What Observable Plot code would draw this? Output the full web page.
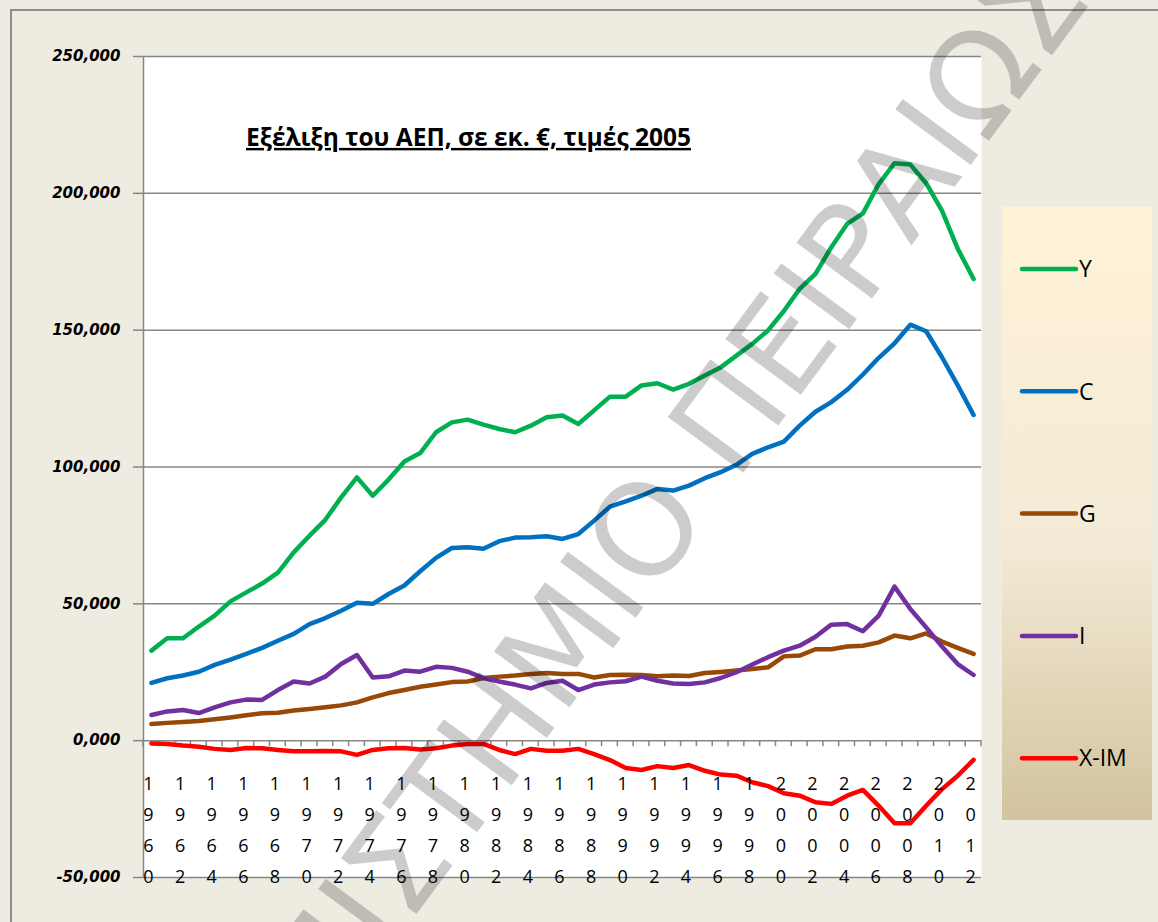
<!DOCTYPE html>
<html><head><meta charset="utf-8">
<script src="https://cdn.jsdelivr.net/npm/d3@7"></script>
<script src="https://cdn.jsdelivr.net/npm/@observablehq/plot@0.6"></script>
<style>
html,body{margin:0;padding:0;background:#EEECE1;overflow:hidden;}
#chart svg{display:block;}
</style>
</head><body><div id="chart"></div>
<script>
const years = [1960,1961,1962,1963,1964,1965,1966,1967,1968,1969,
  1970,1971,1972,1973,1974,1975,1976,1977,1978,1979,
  1980,1981,1982,1983,1984,1985,1986,1987,1988,1989,
  1990,1991,1992,1993,1994,1995,1996,1997,1998,1999,
  2000,2001,2002,2003,2004,2005,2006,2007,2008,2009,
  2010,2011,2012];

const seriesNames = ["Y","C","G","I","X-IM"];
const seriesColors = ["#00B050","#0070C0","#984807","#7030A0","#FF0000"];

const Y = [32.9,37.4,37.4,41.7,45.7,50.9,54.2,57.4,61.4,68.8,
  74.9,80.7,88.9,96.2,89.5,95.4,102.0,105.1,112.7,116.3,
  117.3,115.5,113.9,112.7,115.1,118.2,118.8,115.7,120.7,125.7,
  125.7,129.8,130.6,128.3,130.4,133.4,136.4,140.7,145.0,149.9,
  157.0,165.1,170.6,180.3,188.8,192.7,203.4,211.0,210.5,203.7,
  193.7,179.7,168.7];
const C = [21.1,22.8,23.8,25.2,27.7,29.6,31.7,33.9,36.5,39.0,
  42.6,44.8,47.5,50.4,50.0,53.6,56.7,61.9,66.8,70.4,
  70.7,70.1,72.9,74.2,74.3,74.7,73.7,75.5,80.4,85.5,
  87.4,89.5,92.0,91.4,93.2,95.9,98.1,100.8,104.8,107.2,
  109.3,115.1,120.2,123.7,128.2,133.8,139.9,145.2,152.0,149.6,
  140.1,129.8,119.0];
const G = [6.1,6.5,6.8,7.2,7.8,8.5,9.3,10.0,10.2,11.0,
  11.6,12.2,12.9,14.0,15.8,17.4,18.5,19.7,20.5,21.4,
  21.6,22.9,23.4,23.8,24.4,24.7,24.4,24.4,23.1,24.0,
  24.1,24.0,23.5,23.8,23.6,24.7,25.1,25.6,26.2,26.8,
  30.8,31.1,33.4,33.4,34.4,34.7,35.9,38.4,37.4,39.2,
  36.2,33.9,31.7];
const I = [9.4,10.7,11.2,10.1,12.2,14.0,15.0,14.9,18.5,21.6,
  20.9,23.4,28.0,31.3,23.1,23.5,25.6,25.2,27.0,26.6,
  25.2,22.9,21.6,20.5,19.1,21.1,21.9,18.5,20.5,21.3,
  21.7,23.4,21.9,20.9,20.7,21.3,22.9,25.0,27.8,30.5,
  32.9,34.7,38.0,42.4,42.6,40.0,45.7,56.3,48.1,41.4,
  34.4,28.0,24.0];
const XIM = [-1.0,-1.2,-1.8,-2.2,-3.0,-3.4,-2.7,-2.8,-3.4,-3.9,
  -3.9,-3.8,-3.9,-5.2,-3.4,-2.8,-2.7,-3.2,-2.8,-1.8,
  -1.2,-1.2,-3.4,-4.9,-3.0,-3.7,-3.7,-3.0,-4.9,-7.1,
  -10.0,-10.7,-9.3,-10.0,-8.9,-11.0,-12.4,-12.8,-15.2,-16.6,
  -19.2,-20.1,-22.5,-23.1,-20.1,-18.0,-23.8,-30.2,-30.2,-23.8,
  -17.7,-12.8,-7.0];

const yTicks = [-50,0,50,100,150,200,250];
const yTickLabels = ["-50,000","0,000","50,000","100,000","150,000","200,000","250,000"];
const xLabelYears = years.filter(y => y % 2 === 0);
const titleText = "Εξέλιξη του ΑΕΠ, σε εκ. €, τιμές 2005";
const watermarkText = "ΠΑΝΕΠΙΣΤΗΜΙΟ ΠΕΙΡΑΙΩΣ";

const seriesValues = {"Y": Y, "C": C, "G": G, "I": I, "X-IM": XIM};
const rows = seriesNames.flatMap(s => years.map((yr, i) => ({series: s, year: yr, value: seriesValues[s][i]})));
const boundaries = years.map(y => y - 0.5).concat([years[years.length - 1] + 0.5]);

const gridColor = "#868686";

const plot = Plot.plot({
  width: 1158, height: 922,
  marginLeft: 143, marginRight: 177, marginTop: 56, marginBottom: 45,
  style: {background: "#EEECE1", overflow: "visible", color: "black", fontFamily: "Open Sans"},
  x: {domain: [boundaries[0], boundaries[boundaries.length - 1]], axis: null},
  y: {domain: [-50, 250], axis: null},
  color: {domain: seriesNames, range: seriesColors},
  marks: [
    Plot.frame({fill: "white", stroke: "none"}),
    Plot.ruleY(yTicks, {stroke: gridColor, strokeWidth: 1.5}),
    Plot.ruleX([boundaries[0]], {stroke: gridColor, strokeWidth: 1.5}),
    Plot.axisY(yTicks, {
      label: null,
      tickSize: 10, tickPadding: 13, stroke: gridColor, strokeWidth: 1.5,
      tickFormat: d => yTickLabels[yTicks.indexOf(d)],
      fontSize: 15, fontWeight: "bold", fontStyle: "italic", fontFamily: "DejaVu Sans", fill: "black"
    }),
    Plot.line(rows, {x: "year", y: "value", z: "series", stroke: "series",
      strokeWidth: 4.5, strokeLinejoin: "round", strokeLinecap: "round"}),
    Plot.text(xLabelYears, {x: d => d, y: 0, text: d => String(d).split("").join("\n"),
      lineAnchor: "top", lineHeight: 1.72, dy: 27, dx: -3, fontSize: 18, fontFamily: "Open Sans", fill: "black"}),
    Plot.text([titleText], {frameAnchor: "top-left", textAnchor: "middle", dx: 325, dy: 72,
      fontSize: 24.5, fontWeight: "bold", fontFamily: "Open Sans", fill: "black"})
  ]
});

document.getElementById("chart").appendChild(plot);

const svg = d3.select(plot);
const xs = plot.scale("x"), ys = plot.scale("y");

// underline the title
svg.selectAll("text").filter(function() { return this.textContent === titleText; })
  .style("text-decoration", "underline");

// category tick marks on the zero line (inserted below the lines)
const lineGroup = svg.select('g[aria-label="line"]').node();
const tickG = svg.insert("g", () => lineGroup).attr("stroke", gridColor).attr("stroke-width", 1.5);
const y0 = ys.apply(0);
boundaries.forEach(b => {
  tickG.append("line").attr("x1", xs.apply(b)).attr("x2", xs.apply(b)).attr("y1", y0).attr("y2", y0 + 6);
});

// outer border
svg.append("rect").attr("x", 11).attr("y", 10).attr("width", 1170).attr("height", 940)
  .attr("fill", "none").attr("stroke", "#8E8E8E").attr("stroke-width", 2);

// legend
const defs = svg.append("defs");
const grad = defs.append("linearGradient").attr("id", "legendGrad")
  .attr("x1", 0).attr("y1", 0).attr("x2", 0).attr("y2", 1);
[["0%", "#FFF2D6"], ["55%", "#F3EBD6"], ["100%", "#D3C39E"]].forEach(([o, c]) =>
  grad.append("stop").attr("offset", o).attr("stop-color", c));
svg.append("rect").attr("x", 1002).attr("y", 207).attr("width", 150).attr("height", 613)
  .attr("fill", "url(#legendGrad)");
seriesNames.forEach((name, i) => {
  const ly = 269 + i * 122.3;
  svg.append("line").attr("x1", 1022).attr("x2", 1076).attr("y1", ly).attr("y2", ly)
    .attr("stroke", seriesColors[i]).attr("stroke-width", 4.5).attr("stroke-linecap", "round");
  svg.append("text").attr("x", 1079).attr("y", ly).attr("dy", "0.36em")
    .attr("text-anchor", "start")
    .attr("font-family", "Open Sans").attr("font-size", 23).attr("fill", "black").text(name);
});

// watermark
svg.append("text").attr("transform", "translate(1093,0) rotate(-53.5)")
  .attr("text-anchor", "end").attr("font-family", "DejaVu Sans").attr("font-size", 129)
  .attr("fill", "#000").attr("fill-opacity", 0.2).text(watermarkText);
</script>
</body></html>
